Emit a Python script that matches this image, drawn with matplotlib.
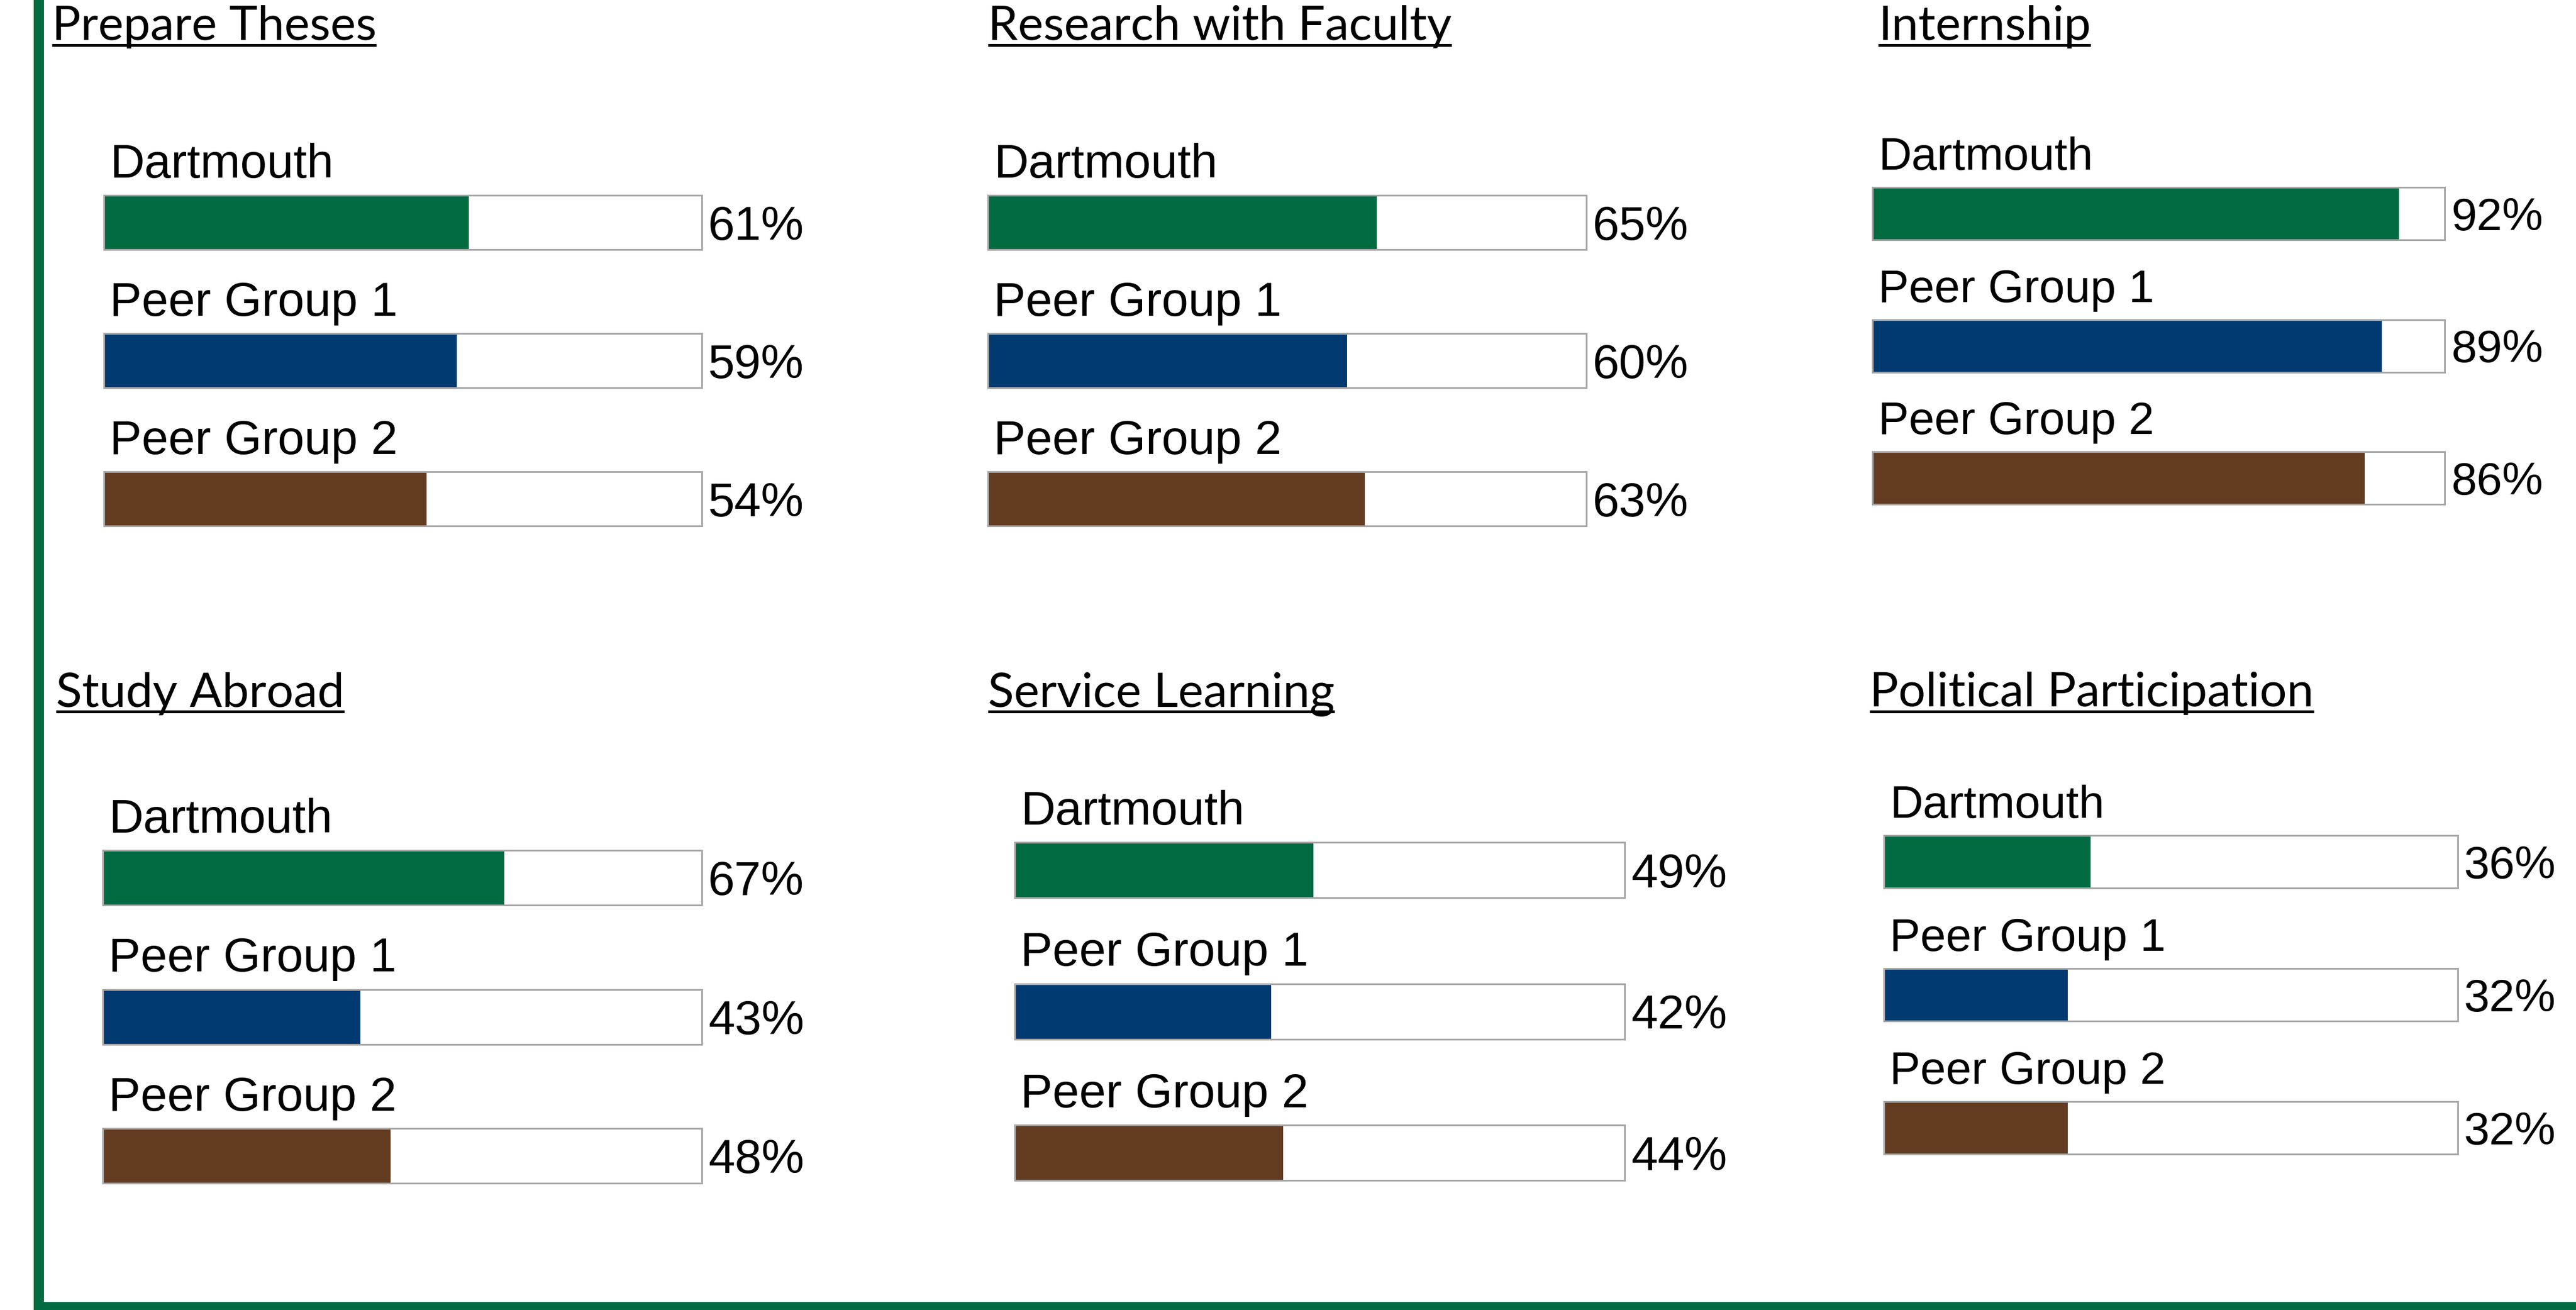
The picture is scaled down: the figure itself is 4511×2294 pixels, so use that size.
import matplotlib
matplotlib.use("Agg")
import matplotlib.pyplot as plt
from matplotlib.patches import Rectangle
from matplotlib.lines import Line2D

# ---------------- data ----------------
titles = ["Prepare Theses", "Research with Faculty", "Internship",
          "Study Abroad", "Service Learning", "Political Participation"]
groups = ["Dartmouth", "Peer Group 1", "Peer Group 2"]
prepare_theses = [61, 59, 54]
research_with_faculty = [65, 60, 63]
internship = [92, 89, 86]
study_abroad = [67, 43, 48]
service_learning = [49, 42, 44]
political_participation = [36, 32, 32]
panel_values = [prepare_theses, research_with_faculty, internship,
                study_abroad, service_learning, political_participation]

# ---------------- style / layout ----------------
group_colors = ["#006A41", "#003A70", "#633C21"]
frame_green = "#006A41"
outline_gray = "#A6A6A6"

W, H, DPI = 4511, 2294, 100
PT = 72.0 / DPI  # points per pixel

bar_left = [182, 1730, 3279, 180, 1777, 3299]
bar_right = [1229, 2778, 4281, 1229, 2845, 4304]
bar_top0 = [342, 342, 328, 1489, 1475, 1463]
bar_pitch = [242, 242, 231.5, 243.5, 247.5, 233]
bar_h = [95, 95, 92, 96, 97, 92]
title_x = [91, 1730, 3289, 98, 1730, 3274]
title_base = [70, 70, 70, 1237, 1237, 1237]
label_px = [84, 84, 80.5, 84, 84, 80.5]
title_px = 84


def fx(px):
    return px / W


def fy(py):
    return 1 - py / H


fig = plt.figure(figsize=(W / DPI, H / DPI), dpi=DPI)
fig.patch.set_facecolor("white")

# green frame (left and bottom)
fig.add_artist(Rectangle((fx(59), 0), 18 / W, 1, transform=fig.transFigure,
                         facecolor=frame_green, edgecolor="none"))
fig.add_artist(Rectangle((fx(59), 0), 1, 14 / H, transform=fig.transFigure,
                         facecolor=frame_green, edgecolor="none"))

title_texts = []
for k in range(6):
    vals = panel_values[k]
    top = bar_top0[k]
    bottom = top + 2 * bar_pitch[k] + bar_h[k]
    ax = fig.add_axes([fx(bar_left[k]), fy(bottom),
                       (bar_right[k] - bar_left[k]) / W, (bottom - top) / H])
    hh = bar_h[k] / bar_pitch[k]
    ys = list(range(len(groups)))
    ax.barh(ys, [100] * 3, height=hh, color="white", edgecolor="none", zorder=1)
    ax.barh(ys, vals, height=hh, color=group_colors, edgecolor="none", zorder=2)
    outl = ax.barh(ys, [100] * 3, height=hh, fill=False, edgecolor=outline_gray,
                   linewidth=3 * PT, zorder=3)
    for p in outl:
        p.set_clip_on(False)
    ax.set_xlim(0, 100)
    ax.set_ylim(2 + hh / 2, -hh / 2)
    ax.axis("off")

    fs = label_px[k] * PT
    cap = 0.716 * label_px[k]
    for i, (g, v) in enumerate(zip(groups, vals)):
        ax.annotate(g, xy=(0, i - hh / 2), xycoords="data",
                    xytext=(10, 31), textcoords="offset pixels",
                    ha="left", va="baseline", fontsize=fs,
                    family="Liberation Sans", color="black",
                    annotation_clip=False)
        ax.annotate(f"{v}%", xy=(100, i), xycoords="data",
                    xytext=(11, -cap / 2), textcoords="offset pixels",
                    ha="left", va="baseline", fontsize=fs,
                    family="Liberation Sans", color="black",
                    annotation_clip=False)

    t = fig.text(fx(title_x[k]), fy(title_base[k]), titles[k], family="Lato",
                 fontsize=title_px * PT, ha="left", va="baseline", color="black")
    title_texts.append(t)

fig.canvas.draw()
renderer = fig.canvas.get_renderer()
for k, t in enumerate(title_texts):
    bb = t.get_window_extent(renderer)
    x0 = bb.x0 / W
    x1 = bb.x1 / W
    yline = fy(title_base[k] + 9)
    fig.add_artist(Line2D([x0, x1], [yline, yline], transform=fig.transFigure,
                          color="black", linewidth=5 * PT, solid_capstyle="butt"))

fig.savefig("out.png", dpi=DPI, facecolor="white")
